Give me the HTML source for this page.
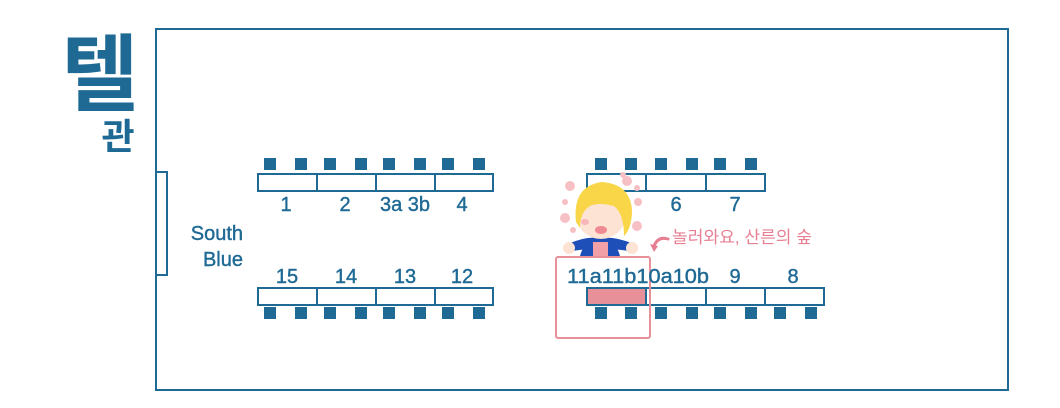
<!DOCTYPE html>
<html><head><meta charset="utf-8"><style>
html,body{margin:0;padding:0;background:#fff;width:1060px;height:408px;overflow:hidden}
text{font-family:"Liberation Sans","Noto Sans CJK KR",sans-serif}
</style></head><body>
<svg width="1060" height="408" viewBox="0 0 1060 408" xmlns="http://www.w3.org/2000/svg">
<g fill="none" stroke="#1f6a95" stroke-width="2">
<rect x="156" y="29" width="852" height="361"/>
<rect x="156" y="172" width="11" height="103" fill="#fff"/>
<rect x="258" y="174" width="235" height="17"/>
<line x1="317" y1="174" x2="317" y2="191"/><line x1="376" y1="174" x2="376" y2="191"/><line x1="435" y1="174" x2="435" y2="191"/>
<rect x="258" y="288" width="235" height="17"/>
<line x1="317" y1="288" x2="317" y2="305"/><line x1="376" y1="288" x2="376" y2="305"/><line x1="435" y1="288" x2="435" y2="305"/>
<rect x="587" y="174" width="178" height="17"/>
<line x1="646" y1="174" x2="646" y2="191"/><line x1="706" y1="174" x2="706" y2="191"/>
<rect x="588" y="289" width="58" height="15" fill="#e8909a" stroke="none"/>
<rect x="587" y="288" width="237" height="17"/>
<line x1="646" y1="288" x2="646" y2="305"/><line x1="706" y1="288" x2="706" y2="305"/><line x1="765" y1="288" x2="765" y2="305"/>
</g>
<g fill="#1f6a95">
<rect x="264" y="158" width="12" height="12"/><rect x="295" y="158" width="12" height="12"/><rect x="324" y="158" width="12" height="12"/><rect x="355" y="158" width="12" height="12"/><rect x="383" y="158" width="12" height="12"/><rect x="414" y="158" width="12" height="12"/><rect x="442" y="158" width="12" height="12"/><rect x="473" y="158" width="12" height="12"/>
<rect x="264" y="307" width="12" height="12"/><rect x="295" y="307" width="12" height="12"/><rect x="324" y="307" width="12" height="12"/><rect x="355" y="307" width="12" height="12"/><rect x="383" y="307" width="12" height="12"/><rect x="414" y="307" width="12" height="12"/><rect x="442" y="307" width="12" height="12"/><rect x="473" y="307" width="12" height="12"/>
<rect x="595" y="158" width="12" height="12"/><rect x="625" y="158" width="12" height="12"/><rect x="655" y="158" width="12" height="12"/><rect x="686" y="158" width="12" height="12"/><rect x="714" y="158" width="12" height="12"/><rect x="745" y="158" width="12" height="12"/>
<rect x="595" y="307" width="12" height="12"/><rect x="625" y="307" width="12" height="12"/><rect x="655" y="307" width="12" height="12"/><rect x="686" y="307" width="12" height="12"/><rect x="714" y="307" width="12" height="12"/><rect x="745" y="307" width="12" height="12"/><rect x="774" y="307" width="12" height="12"/><rect x="805" y="307" width="12" height="12"/>
</g>
<rect x="556" y="257" width="94" height="81" fill="none" stroke="#e8909a" stroke-width="2" rx="2"/>
<g fill="#1f6a95" font-size="20" text-anchor="middle" stroke="#1f6a95" stroke-width="0.4">
<text x="286" y="211">1</text><text x="345" y="211">2</text><text x="405" y="211">3a 3b</text><text x="462" y="211">4</text>
<text x="676" y="211">6</text><text x="735" y="211">7</text>
<text x="287" y="283">15</text><text x="346" y="283">14</text><text x="405" y="283">13</text><text x="462" y="283">12</text>
<text x="638" y="283" textLength="142" lengthAdjust="spacingAndGlyphs">11a11b10a10b</text><text x="735" y="283">9</text><text x="793" y="283">8</text>
<text x="243" y="240" text-anchor="end">South</text><text x="243" y="266" text-anchor="end">Blue</text>
</g>
<g fill="#1f6a95" text-anchor="middle">
<text x="100" y="104" font-size="84" font-weight="bold">텔</text>
<text x="118" y="149" font-size="36" font-weight="bold">관</text>
</g>
<text x="672" y="243" font-size="17" fill="#e77f93" textLength="140" lengthAdjust="spacingAndGlyphs">놀러와요, 산른의 숲</text>
<path d="M668 239 Q658 236 654 246" fill="none" stroke="#e77f93" stroke-width="3" stroke-linecap="round"/>
<path d="M650 244 L658 246 L654 252 Z" fill="#e77f93"/>
<!-- character -->
<g>
<g fill="#f7c0c4"><circle cx="570" cy="186" r="5"/><circle cx="565" cy="202" r="3"/><circle cx="565" cy="218" r="5"/><circle cx="573" cy="230" r="3"/><circle cx="627" cy="181" r="5"/><circle cx="637" cy="188" r="3"/><circle cx="638" cy="202" r="4"/><circle cx="637" cy="226" r="5"/><circle cx="623" cy="175" r="3"/></g>
<path d="M580 256 Q584 240 600 238 Q616 240 620 256 Z" fill="#1e4fb8"/>
<path d="M568 244 Q585 236 600 238 Q615 236 634 244 L634 252 Q615 248 600 250 Q585 248 568 252 Z" fill="#1e4fb8"/>
<circle cx="569" cy="248" r="6" fill="#fde3d4"/><circle cx="632" cy="248" r="6" fill="#fde3d4"/>
<rect x="593" y="242" width="15" height="14" fill="#f1a0a8"/>
<ellipse cx="601" cy="217" rx="24" ry="22" fill="#fde3d4"/>
<path d="M576 222 Q572 186 602 182 Q630 184 632 210 Q632 228 624 236 Q624 214 614 206 Q598 202 590 206 Q580 212 580 228 Z" fill="#f9d648"/>
<ellipse cx="601" cy="230" rx="6" ry="4" fill="#f08a92"/>
<ellipse cx="585" cy="222" rx="4" ry="3" fill="#f7b6ba"/>
</g>
</svg>
</body></html>
